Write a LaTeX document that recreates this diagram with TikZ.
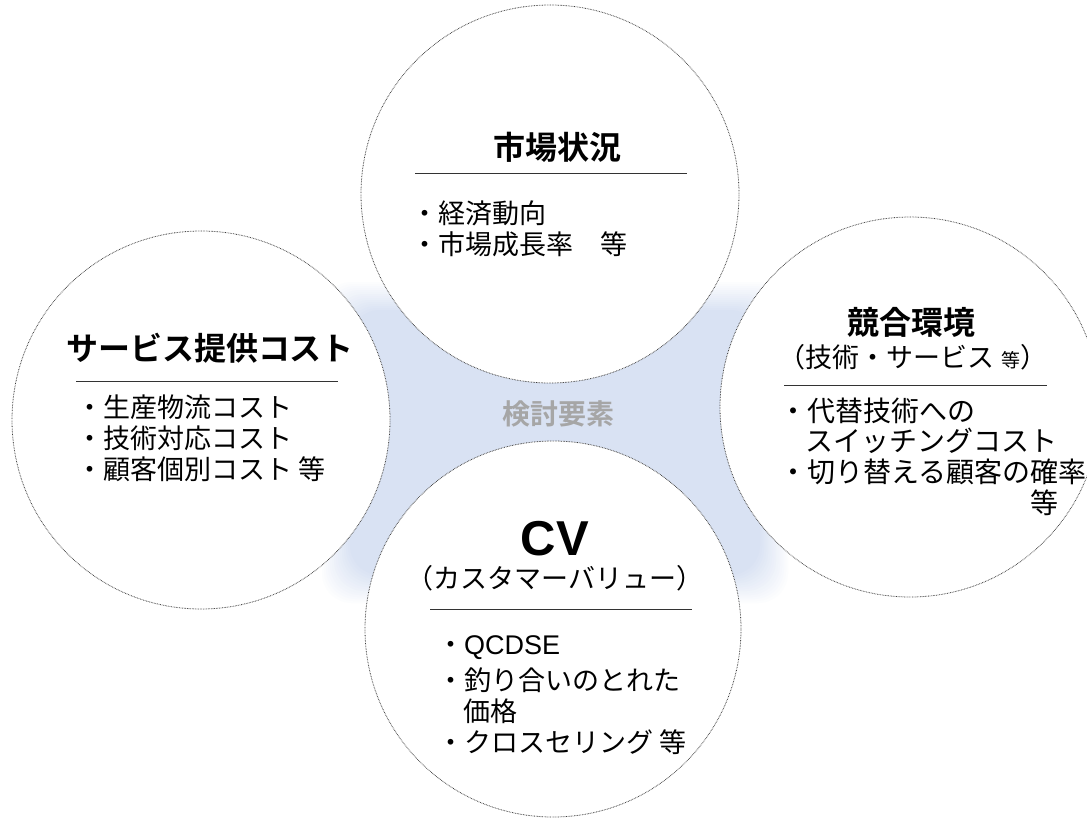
\documentclass[tikz,border=0pt]{standalone}
\usepackage{fontspec}
\setmainfont{Noto Sans CJK JP}[BoldFont={Noto Sans CJK JP Bold}]
\newfontfamily\arialfont{Liberation Sans}
\definecolor{softblue}{RGB}{217,226,243}
\definecolor{rimgray}{RGB}{60,60,60}
\definecolor{labelgray}{RGB}{166,166,166}
\tikzset{
  topic/.style={circle, draw=rimgray, fill=white, line width=0.8pt,
    dash pattern=on 0.7pt off 0.9pt, inner sep=0pt},
  heading/.style={font=\bfseries\fontsize{32}{36}\selectfont, inner sep=0pt, anchor=center},
  subhead/.style={font=\fontsize{27}{30}\selectfont, inner sep=0pt, anchor=center,
    text height=23.7pt, text depth=3.3pt},
  item/.style={font=\fontsize{27}{30}\selectfont, inner sep=0pt, anchor=west},
  itemr/.style={font=\fontsize{28}{30}\selectfont, inner sep=0pt, anchor=west},
  rule/.style={line width=0.9pt, draw=black!80}
}
\begin{document}
\begin{tikzpicture}[x=1pt,y=-1pt]
\useasboundingbox (0,0) rectangle (1087,817);
% soft-edged blue backdrop
\foreach \i in {0,...,15}{
  \pgfmathsetmacro{\pct}{100*\i/15}
  \pgfmathsetmacro{\ins}{2*\i}
  \fill[softblue!\pct!white, rounded corners=30pt]
    (320+\ins,280+\ins) rectangle (790-\ins,605-\ins);
}
% circles
\node[topic, minimum size=378pt] (market) at (550,194) {};
\node[topic, minimum size=378pt] (cost) at (201,420) {};
\node[topic, minimum size=380pt] (comp) at (910,407) {};
\node[topic, minimum size=376pt] (cv) at (553,629) {};
% centre label
\node[font=\bfseries\fontsize{28}{30}\selectfont, text=labelgray, inner sep=0pt] (centre) at (558,414) {検討要素};
% market
\node[heading] (marketT) at (557,147) {市場状況};
\draw[rule] (415,173) -- (687,173);
\node[item] (m1) at (411,213) {・経済動向};
\node[item] (m2) at (411,244) {・市場成長率　等};
% cost
\node[heading] (costT) at (210,348) {サービス提供コスト};
\draw[rule] (76,381) -- (338,381);
\node[item] (c1) at (76,407) {・生産物流コスト};
\node[item] (c2) at (76,438) {・技術対応コスト};
\node[item] (c3) at (76,469) {・顧客個別コスト 等};
% competition
\node[heading] (compT) at (911,322) {競合環境};
\node[subhead] (compS) at (913,357) {（技術・サービス {\fontsize{19}{22}\selectfont 等}）};
\draw[rule] (784,385) -- (1047,385);
\node[itemr] (r1) at (779,411) {・代替技術への};
\node[itemr] (r2) at (805,441) {スイッチングコスト};
\node[itemr] (r3) at (779,472) {・切り替える顧客の確率};
\node[itemr] (r4) at (1030,503) {等};
% customer value
\node[font=\arialfont\bfseries\fontsize{49}{52}\selectfont, inner sep=0pt, anchor=base,
  text height=35pt, text depth=0pt] (cvT) at (555,555) {CV};
\node[subhead] (cvS) at (555,578) {（カスタマーバリュー）};
\draw[rule] (430,609) -- (692,609);
\node[item] (v1) at (437,648) {・{\arialfont QCDSE}};
\node[item] (v2) at (437,680) {・釣り合いのとれた};
\node[item] (v3) at (463,711) {価格};
\node[item] (v4) at (437,742) {・クロスセリング 等};
\end{tikzpicture}
\end{document}
